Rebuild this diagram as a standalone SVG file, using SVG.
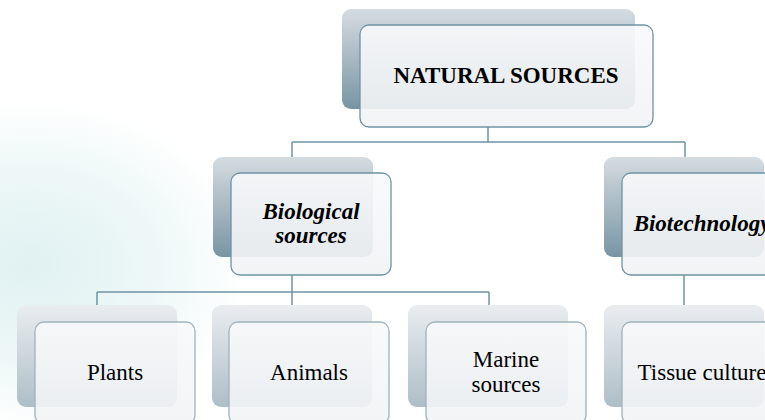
<svg xmlns="http://www.w3.org/2000/svg" width="765" height="420" viewBox="0 0 765 420">
<defs>
<radialGradient id="bg" cx="0.5" cy="0.5" r="0.5">
<stop offset="0" stop-color="#e0f1f2"/>
<stop offset="0.55" stop-color="#edf7f7"/>
<stop offset="1" stop-color="#ffffff"/>
</radialGradient>
<linearGradient id="back1" x1="0" y1="0" x2="0" y2="1">
<stop offset="0" stop-color="#d5dce1"/>
<stop offset="1" stop-color="#7895a4"/>
</linearGradient>
<linearGradient id="back2" x1="0" y1="0" x2="0" y2="1">
<stop offset="0" stop-color="#eaedf0"/>
<stop offset="1" stop-color="#adbec7"/>
</linearGradient>
<linearGradient id="front" x1="0" y1="0" x2="0" y2="1">
<stop offset="0" stop-color="#f8f9fa"/>
<stop offset="1" stop-color="#f1f3f5"/>
</linearGradient>
</defs>
<style>
.f1{fill:url(#front);fill-opacity:0.9;stroke:#6f93a5;stroke-width:1.3}
.f2{fill:url(#front);fill-opacity:0.9;stroke:#9fb2bd;stroke-width:1.3}
.b1{fill:url(#back1)}
.b2{fill:url(#back2)}
.conn{fill:none;stroke:#6f93a5;stroke-width:1.5}
.t{font-family:"Liberation Serif","Times New Roman",serif;font-size:23px;fill:#000;text-anchor:middle}
.bold{font-weight:bold}
.bi{font-weight:bold;font-style:italic}
</style>
<rect width="765" height="420" fill="#ffffff"/>
<ellipse cx="30" cy="265" rx="220" ry="165" fill="url(#bg)"/>
<g id="connectors">
<path class="conn" d="M488,127 V142 M292,142 H685 M292,142 V157 M685,142 V157"/>
<path class="conn" d="M292,275 V292 M97,292 H489 M97,292 V305 M292,292 V305 M489,292 V305"/>
<path class="conn" d="M684,275 V305"/>
</g>
<g id="natural-sources">
<rect class="b1" x="342" y="9" width="293" height="100" rx="9"/>
<rect class="f1" x="360" y="25" width="293" height="102" rx="9"/>
<text class="t bold" x="506" y="83">NATURAL SOURCES</text>
</g>
<g id="biological-sources">
<rect class="b1" x="213" y="157" width="160" height="100" rx="9"/>
<rect class="f1" x="231" y="173" width="160" height="102" rx="9"/>
<text class="t bi" x="311" y="219">Biological</text>
<text class="t bi" x="311" y="243">sources</text>
</g>
<g id="biotechnology">
<rect class="b1" x="604" y="157" width="160" height="100" rx="9"/>
<rect class="f1" x="622" y="173" width="160" height="102" rx="9"/>
<text class="t bi" x="702" y="231">Biotechnology</text>
</g>
<g id="plants">
<rect class="b2" x="17" y="305" width="160" height="102" rx="9"/>
<rect class="f2" x="35" y="322" width="160" height="102" rx="9"/>
<text class="t" x="115" y="380">Plants</text>
</g>
<g id="animals">
<rect class="b2" x="212" y="305" width="160" height="102" rx="9"/>
<rect class="f2" x="229" y="322" width="160" height="102" rx="9"/>
<text class="t" x="309" y="380">Animals</text>
</g>
<g id="marine-sources">
<rect class="b2" x="408" y="305" width="160" height="102" rx="9"/>
<rect class="f2" x="426" y="322" width="160" height="102" rx="9"/>
<text class="t" x="506" y="367">Marine</text>
<text class="t" x="506" y="392">sources</text>
</g>
<g id="tissue-culture">
<rect class="b2" x="604" y="305" width="160" height="102" rx="9"/>
<rect class="f2" x="622" y="322" width="160" height="102" rx="9"/>
<text class="t" x="702" y="380">Tissue culture</text>
</g>
</svg>
